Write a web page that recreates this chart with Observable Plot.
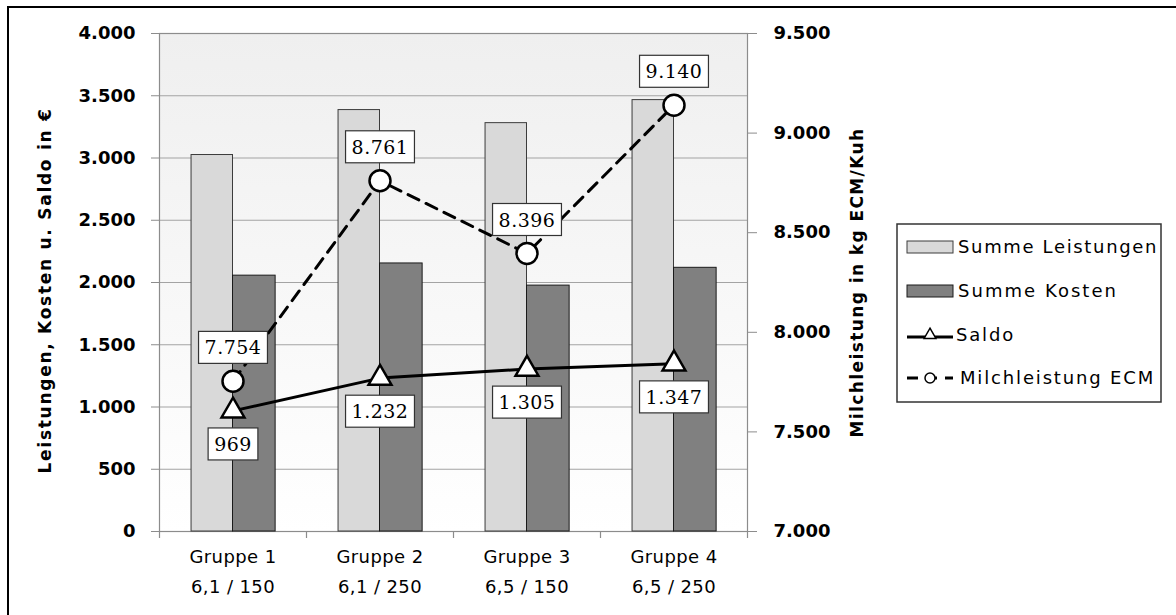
<!DOCTYPE html>
<html><head><meta charset="utf-8">
<script src="https://cdn.jsdelivr.net/npm/d3@7"></script>
<script src="https://cdn.jsdelivr.net/npm/@observablehq/plot@0.6"></script>
<style>body{margin:0;background:#fff;} svg{display:block}</style>
</head><body><div id="chart"></div>
<script>
// ---- data ----
const groups = ["Gruppe 1", "Gruppe 2", "Gruppe 3", "Gruppe 4"];
const subLabels = ["6,1 / 150", "6,1 / 250", "6,5 / 150", "6,5 / 250"];
const leistungen = [3024, 3385, 3280, 3465];
const kosten = [2055, 2153, 1975, 2118];
const saldo = [969, 1232, 1305, 1347];
const milch = [7754, 8761, 8396, 9140];
const leftTicks = [0, 500, 1000, 1500, 2000, 2500, 3000, 3500, 4000];
const rightTicks = [7000, 7500, 8000, 8500, 9000, 9500];
const seriesNames = ["Summe Leistungen", "Summe Kosten", "Saldo", "Milchleistung ECM"];
const leftTitle = "Leistungen, Kosten u. Saldo in €";
const rightTitle = "Milchleistung in kg ECM/Kuh";

const rows = groups.map((g, i) => ({group: g, sub: subLabels[i], leistungen: leistungen[i], kosten: kosten[i], saldo: saldo[i], milch: milch[i]}));

const W = 1176, H = 615, ML = 159, MR = 429, MT = 33, MB = 84;
const band = (W - ML - MR) / groups.length;
const de = d3.formatLocale({decimal: ",", thousands: ".", grouping: [3], currency: ["", "€"]});
const fmt = de.format(",d");
const leftMax = leftTicks[leftTicks.length - 1];
const rMin = rightTicks[0], rMax = rightTicks[rightTicks.length - 1];
const toLeft = v => (v - rMin) * leftMax / (rMax - rMin);
const fromLeft = v => Math.round(v * (rMax - rMin) / leftMax + rMin);

const chart = Plot.plot({
  width: W, height: H, marginLeft: ML, marginRight: MR, marginTop: MT, marginBottom: MB,
  style: {fontFamily: "DejaVu Sans", fontSize: "17px", color: "#000", background: "transparent", overflow: "visible"},
  x: {type: "band", domain: groups, padding: 0, axis: null},
  y: {domain: [0, leftMax], axis: null},
  marks: [
    Plot.frame({fill: "url(#plotBg)"}),
    Plot.ruleY(leftTicks, {stroke: "#a3a3a3", strokeWidth: 1.2}),
    Plot.frame({stroke: "#8c8c8c", strokeWidth: 1.2}),
    Plot.ruleX(rows, {x: "group", dx: -band / 2, y1: 0, y2: 0, insetBottom: -7, stroke: "#8c8c8c", strokeWidth: 1.2}),
    Plot.ruleX([groups[groups.length - 1]], {x: d => d, dx: band / 2, y1: 0, y2: 0, insetBottom: -7, stroke: "#8c8c8c", strokeWidth: 1.2}),
    Plot.barY(rows, {x: "group", y: "leistungen", fill: "#d9d9d9", stroke: "#3c3c3c", strokeWidth: 1, insetLeft: band * 0.218, insetRight: band / 2}),
    Plot.barY(rows, {x: "group", y: "kosten", fill: "#808080", stroke: "#1a1a1a", strokeWidth: 1, insetLeft: band / 2, insetRight: band * 0.21}),
    Plot.axisY({ticks: leftTicks, tickFormat: fmt, tickSize: 8, tickPadding: 16, stroke: "#8c8c8c", fontSize: 18, fontWeight: "bold"}),
    Plot.axisY({anchor: "right", ticks: rightTicks.map(toLeft), tickFormat: v => fmt(fromLeft(v)), tickSize: 9, tickPadding: 17, stroke: "#8c8c8c", fontSize: 18, fontWeight: "bold"}),
    Plot.text(rows, {x: "group", text: "group", frameAnchor: "bottom", dy: 31, fontSize: 18, ariaDescription: "xlbl"}),
    Plot.text(rows, {x: "group", text: "sub", frameAnchor: "bottom", dy: 61, fontSize: 18, ariaDescription: "xlbl"}),
    Plot.text([leftTitle], {frameAnchor: "left", textAnchor: "middle", dx: -114, dy: 8, rotate: -90, fontWeight: "bold", fontSize: 17, ariaDescription: "ltitle"}),
    Plot.text([rightTitle], {frameAnchor: "right", textAnchor: "middle", dx: 110, dy: 0, rotate: -90, fontWeight: "bold", fontSize: 17, ariaDescription: "rtitle"}),
    Plot.line(rows, {x: "group", y: d => toLeft(d.milch), stroke: "#000", strokeWidth: 3, strokeDasharray: "12,8"}),
    Plot.line(rows, {x: "group", y: "saldo", stroke: "#000", strokeWidth: 3}),
    Plot.dot(rows, {x: "group", y: d => toLeft(d.milch), symbol: "circle", r: 10.5, fill: "#fff", stroke: "#000", strokeWidth: 2.5}),
    Plot.dot(rows, {x: "group", y: "saldo", symbol: "triangle", r: 8.5, fill: "#fff", stroke: "#000", strokeWidth: 2.5}),
    Plot.text(rows, {x: "group", y: d => toLeft(d.milch), text: d => fmt(d.milch), dy: -33, fontFamily: "DejaVu Serif", fontSize: 19, ariaDescription: "boxed"}),
    Plot.text(rows, {x: "group", y: "saldo", text: d => fmt(d.saldo), dy: 34, fontFamily: "DejaVu Serif", fontSize: 19, ariaDescription: "boxed"})
  ]
});

document.getElementById("chart").appendChild(chart);
const svg = d3.select(chart);

// gradient background for plot area
const defs = svg.insert("defs", ":first-child");
const grad = defs.append("linearGradient").attr("id", "plotBg").attr("x1", 0).attr("y1", 0).attr("x2", 0).attr("y2", 1);
grad.append("stop").attr("offset", "0%").attr("stop-color", "#efefef");
grad.append("stop").attr("offset", "100%").attr("stop-color", "#ffffff");

// stretch a text to a target width through letter spacing
function fit(el, target) {
  el.removeAttribute("letter-spacing");
  const n = el.textContent.length;
  const w = el.getComputedTextLength();
  el.setAttribute("letter-spacing", ((target - w) / n).toFixed(2));
}

svg.selectAll('g[aria-description="xlbl"] text').attr("letter-spacing", 0.4);
svg.selectAll('g[aria-description="ltitle"] text').each(function () { fit(this, 366); });
svg.selectAll('g[aria-description="rtitle"] text').each(function () { fit(this, 310); });
svg.selectAll('g[aria-description="boxed"] text').attr("letter-spacing", 0.5);

// white boxes behind value labels
svg.selectAll('g[aria-description="boxed"] text').each(function () {
  const b = this.getBBox();
  const r = document.createElementNS("http://www.w3.org/2000/svg", "rect");
  r.setAttribute("x", b.x - 6);
  r.setAttribute("y", b.y - 5);
  r.setAttribute("width", b.width + 12);
  r.setAttribute("height", b.height + 10);
  r.setAttribute("fill", "#fff");
  r.setAttribute("stroke", "#333");
  r.setAttribute("stroke-width", 1.2);
  const t = this.getAttribute("transform");
  if (t) r.setAttribute("transform", t);
  this.parentNode.insertBefore(r, this);
});

// outer chart frame (left & top edges visible)
svg.append("path").attr("d", `M8,${H + 5}V7H${W + 5}`).attr("fill", "none").attr("stroke", "#000").attr("stroke-width", 2);

// legend
const lg = svg.append("g").attr("font-family", "DejaVu Sans").attr("font-size", 18).attr("text-anchor", "start");
lg.append("rect").attr("x", 897).attr("y", 224).attr("width", 264).attr("height", 178).attr("fill", "#fff").attr("stroke", "#333").attr("stroke-width", 1.5);
const ly = [247, 291, 335, 378];
const lx = [958, 958, 956, 960];
const lw = [200, 160, 59, 195];
lg.append("rect").attr("x", 907).attr("y", ly[0] - 6).attr("width", 46).attr("height", 12).attr("fill", "#d9d9d9").attr("stroke", "#3c3c3c");
lg.append("rect").attr("x", 907).attr("y", ly[1] - 6).attr("width", 46).attr("height", 12).attr("fill", "#808080").attr("stroke", "#1a1a1a");
lg.append("line").attr("x1", 907).attr("x2", 953).attr("y1", ly[2] + 2).attr("y2", ly[2] + 2).attr("stroke", "#000").attr("stroke-width", 3);
lg.append("path").attr("d", d3.symbol(d3.symbolTriangle, 60)()).attr("transform", `translate(930,${ly[2]})`).attr("fill", "#fff").attr("stroke", "#000").attr("stroke-width", 1.5);
lg.append("line").attr("x1", 907).attr("x2", 953).attr("y1", ly[3]).attr("y2", ly[3]).attr("stroke", "#000").attr("stroke-width", 3).attr("stroke-dasharray", "11,8");
lg.append("circle").attr("cx", 930).attr("cy", ly[3]).attr("r", 5).attr("fill", "#fff").attr("stroke", "#000").attr("stroke-width", 1.5);
seriesNames.forEach((n, i) => {
  const t = lg.append("text").attr("x", lx[i]).attr("y", ly[i]).attr("dy", "0.35em").text(n);
  fit(t.node(), lw[i]);
});
</script>
</body></html>
